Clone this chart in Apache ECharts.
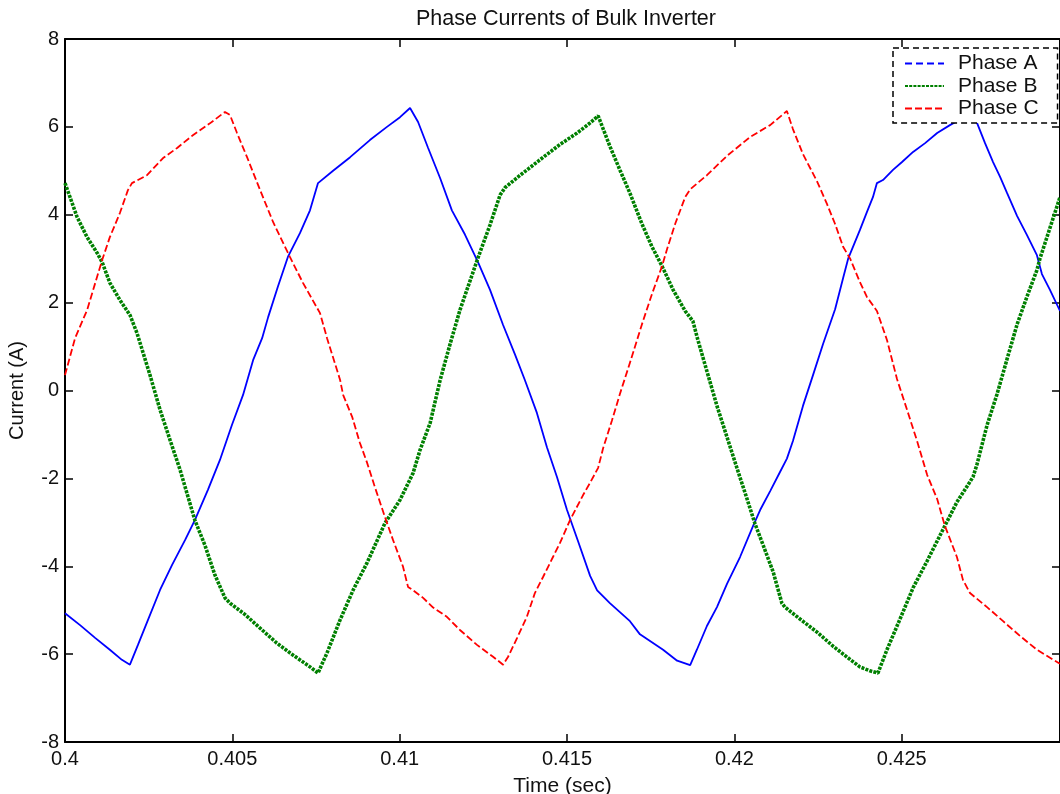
<!DOCTYPE html>
<html>
<head>
<meta charset="utf-8">
<title>Phase Currents of Bulk Inverter</title>
<script src="https://cdn.jsdelivr.net/npm/echarts@6/dist/echarts.min.js"></script>
<style>
  html, body { margin: 0; padding: 0; background: #ffffff; }
  #chart { width: 1060px; height: 794px; }
</style>
</head>
<body>
<div id="chart"></div>
<script>
// Sampled inverter phase currents (time in seconds, current in amperes)
const timeA = [
  0.40000,0.40045,0.40090,0.40134,0.40170,0.40194,0.40218,0.40248,0.40284,0.40320,
  0.40359,0.40388,0.40427,0.40463,0.40499,0.40532,0.40562,0.40589,0.40607,0.40636,
  0.40666,0.40702,0.40732,0.40756,0.40801,0.40852,0.40911,0.40962,0.41001,0.41031,
  0.41055,0.41085,0.41121,0.41156,0.41195,0.41234,0.41270,0.41309,0.41345,0.41374,
  0.41410,0.41440,0.41470,0.41500,0.41533,0.41569,0.41590,0.41628,0.41688,0.41718,
  0.41787,0.41829,0.41868,0.41888,0.41918,0.41948,0.41978,0.42017,0.42056,0.42077,
  0.42107,0.42136,0.42157,0.42175,0.42205,0.42235,0.42265,0.42301,0.42325,0.42340,
  0.42375,0.42396,0.42414,0.42426,0.42444,0.42474,0.42501,0.42534,0.42570,0.42606,
  0.42644,0.42665,0.42689,0.42725,0.42749,0.42773,0.42794,0.42815,0.42845,0.42874,
  0.42904,0.42919,0.42943,0.42973
];
const phaseA = [
  -5.07,-5.34,-5.63,-5.90,-6.13,-6.24,-5.79,-5.22,-4.54,-3.97,
  -3.40,-2.95,-2.26,-1.58,-0.78,-0.10,0.69,1.19,1.67,2.36,
  3.04,3.58,4.10,4.72,5.00,5.31,5.70,6.00,6.22,6.43,
  6.11,5.52,4.83,4.10,3.55,2.92,2.29,1.49,0.81,0.24,
  -0.51,-1.29,-1.97,-2.72,-3.43,-4.22,-4.55,-4.84,-5.25,-5.55,
  -5.90,-6.15,-6.25,-5.90,-5.36,-4.93,-4.40,-3.79,-3.08,-2.72,
  -2.29,-1.86,-1.55,-1.15,-0.35,0.35,1.06,1.85,2.56,3.00,
  3.65,4.06,4.40,4.72,4.79,5.02,5.20,5.43,5.63,5.86,
  6.04,6.13,6.33,6.09,5.63,5.20,4.86,4.49,3.97,3.54,
  3.08,2.65,2.29,1.81
];

const timeB = [
  0.40000,0.40015,0.40036,0.40066,0.40096,0.40111,0.40134,0.40164,0.40194,0.40215,
  0.40254,0.40284,0.40314,0.40344,0.40388,0.40418,0.40448,0.40478,0.40493,0.40538,
  0.40583,0.40633,0.40681,0.40732,0.40756,0.40783,0.40822,0.40861,0.40902,0.40956,
  0.41001,0.41040,0.41061,0.41091,0.41121,0.41150,0.41180,0.41234,0.41270,0.41300,
  0.41315,0.41360,0.41419,0.41479,0.41530,0.41569,0.41593,0.41628,0.41658,0.41688,
  0.41724,0.41754,0.41784,0.41817,0.41853,0.41876,0.41891,0.41918,0.41948,0.41978,
  0.42008,0.42038,0.42062,0.42086,0.42116,0.42142,0.42151,0.42196,0.42247,0.42295,
  0.42337,0.42375,0.42405,0.42429,0.42456,0.42495,0.42534,0.42576,0.42629,0.42665,
  0.42713,0.42725,0.42755,0.42785,0.42815,0.42845,0.42874,0.42904,0.42913,0.42943,
  0.42973
];
const phaseB = [
  4.72,4.40,3.95,3.49,3.13,2.92,2.45,2.06,1.72,1.31,
  0.35,-0.44,-1.13,-1.81,-2.95,-3.52,-4.20,-4.72,-4.84,-5.10,
  -5.41,-5.75,-6.02,-6.29,-6.43,-5.97,-5.22,-4.54,-3.93,-3.02,
  -2.49,-1.88,-1.35,-0.74,0.24,1.04,1.83,3.02,3.77,4.45,
  4.62,4.90,5.25,5.60,5.86,6.09,6.25,5.56,5.02,4.49,
  3.79,3.27,2.83,2.29,1.81,1.58,1.15,0.44,-0.35,-1.06,
  -1.77,-2.47,-3.04,-3.52,-4.13,-4.84,-4.93,-5.20,-5.50,-5.82,
  -6.07,-6.29,-6.38,-6.43,-5.90,-5.20,-4.49,-3.88,-3.08,-2.54,
  -1.97,-1.68,-0.79,-0.08,0.72,1.51,2.13,2.74,3.00,3.70,
  4.40
];

const timeC = [
  0.40000,0.40030,0.40066,0.40111,0.40134,0.40164,0.40188,0.40200,0.40245,0.40293,
  0.40335,0.40382,0.40433,0.40478,0.40493,0.40514,0.40544,0.40583,0.40622,0.40672,
  0.40711,0.40762,0.40783,0.40822,0.40831,0.40858,0.40881,0.40902,0.40926,0.40956,
  0.40980,0.41010,0.41025,0.41037,0.41070,0.41100,0.41141,0.41180,0.41231,0.41279,
  0.41309,0.41324,0.41351,0.41380,0.41404,0.41428,0.41458,0.41479,0.41509,0.41548,
  0.41569,0.41593,0.41608,0.41634,0.41658,0.41688,0.41724,0.41754,0.41784,0.41799,
  0.41823,0.41853,0.41868,0.41918,0.41978,0.42047,0.42107,0.42157,0.42175,0.42205,
  0.42247,0.42277,0.42301,0.42325,0.42346,0.42375,0.42396,0.42426,0.42456,0.42486,
  0.42516,0.42546,0.42576,0.42606,0.42629,0.42665,0.42683,0.42704,0.42755,0.42803,
  0.42854,0.42904,0.42973
];
const phaseC = [
  0.35,1.19,1.83,2.97,3.49,4.04,4.56,4.72,4.90,5.29,
  5.52,5.81,6.08,6.34,6.27,5.86,5.31,4.56,3.83,3.04,
  2.45,1.76,1.19,0.24,-0.10,-0.60,-1.19,-1.63,-2.20,-2.88,
  -3.40,-4.01,-4.47,-4.53,-4.72,-4.94,-5.15,-5.45,-5.79,-6.06,
  -6.24,-6.06,-5.63,-5.15,-4.61,-4.25,-3.79,-3.47,-2.95,-2.38,
  -2.10,-1.76,-1.31,-0.69,-0.08,0.63,1.51,2.20,2.83,3.22,
  3.79,4.40,4.58,4.90,5.34,5.77,6.04,6.36,5.95,5.38,
  4.76,4.24,3.79,3.27,3.00,2.47,2.13,1.81,1.15,0.26,
  -0.44,-1.15,-1.92,-2.47,-3.08,-3.79,-4.31,-4.61,-4.93,-5.25,
  -5.59,-5.90,-6.22
];

const seriesNames = ['Phase A', 'Phase B', 'Phase C'];
const timeRange = [0.4, 0.42973];
const timeStep = 0.005;
const currentRange = [-8, 8];
const currentStep = 2;

const FONT = "'Liberation Sans', Arial, Helvetica, sans-serif";
const INK = '#111111';

function pairs(t, v) { return t.map((x, i) => [x, v[i]]); }

const chart = echarts.init(document.getElementById('chart'), null, { renderer: 'canvas' });

const axisLineStyle = { show: true, onZero: false, lineStyle: { color: '#000', width: 2 } };
const tickStyle = { show: true, inside: true, length: 8, lineStyle: { color: '#000', width: 1.5 } };

const option = {
  backgroundColor: '#ffffff',
  animation: false,
  title: {
    text: 'Phase Currents of Bulk Inverter',
    left: 566,
    top: 8,
    textAlign: 'center',
    padding: 0,
    textStyle: { fontFamily: FONT, fontSize: 21.5, fontWeight: 'normal', color: INK }
  },
  legend: {
    data: [
      { name: seriesNames[0], lineStyle: { type: [7, 4], width: 2 } },
      { name: seriesNames[1] },
      { name: seriesNames[2] }
    ],
    orient: 'vertical',
    left: 893,
    top: 48,
    padding: [5, 19, 4, 11],
    itemGap: 1.5,
    itemWidth: 39,
    itemHeight: 14,
    itemStyle: { opacity: 0 },
    backgroundColor: '#ffffff',
    borderColor: '#000000',
    borderWidth: 1.5,
    borderType: [6, 4],
    textStyle: { fontFamily: FONT, fontSize: 21, color: INK, padding: [0, 0, 0, 9] },
    selectedMode: false
  },
  grid: { left: 65, top: 39, width: 995, height: 703, containLabel: false, outerBoundsMode: 'none' },
  xAxis: [
    {
      type: 'value',
      min: timeRange[0], max: timeRange[1], interval: timeStep,
      position: 'bottom',
      name: 'Time (sec)',
      nameLocation: 'middle',
      nameGap: 34,
      nameTextStyle: { fontFamily: FONT, fontSize: 21, color: INK },
      axisLine: axisLineStyle,
      axisTick: tickStyle,
      axisLabel: { fontFamily: FONT, fontSize: 20, color: INK, margin: 7, showMaxLabel: false },
      splitLine: { show: false }
    },
    {
      type: 'value',
      min: timeRange[0], max: timeRange[1], interval: timeStep,
      position: 'top',
      axisLine: axisLineStyle,
      axisTick: tickStyle,
      axisLabel: { show: false },
      splitLine: { show: false }
    }
  ],
  yAxis: [
    {
      type: 'value',
      min: currentRange[0], max: currentRange[1], interval: currentStep,
      position: 'left',
      name: 'Current (A)',
      nameLocation: 'middle',
      nameRotate: 90,
      nameGap: 38,
      nameTextStyle: { fontFamily: FONT, fontSize: 20, color: INK },
      axisLine: axisLineStyle,
      axisTick: tickStyle,
      axisLabel: { fontFamily: FONT, fontSize: 20, color: INK, margin: 6 },
      splitLine: { show: false }
    },
    {
      type: 'value',
      min: currentRange[0], max: currentRange[1], interval: currentStep,
      position: 'right',
      axisLine: axisLineStyle,
      axisTick: tickStyle,
      axisLabel: { show: false },
      splitLine: { show: false }
    }
  ],
  series: [
    {
      name: seriesNames[0],
      type: 'line',
      data: pairs(timeA, phaseA),
      symbol: 'none',
      lineStyle: { color: '#0000ff', width: 1.8, type: 'solid' },
      itemStyle: { color: '#0000ff' },
      z: 2
    },
    {
      name: seriesNames[1],
      type: 'line',
      data: pairs(timeB, phaseB),
      symbol: 'none',
      lineStyle: { color: '#008000', width: 3.6, type: [3, 1.2] },
      itemStyle: { color: '#008000' },
      z: 3
    },
    {
      name: seriesNames[2],
      type: 'line',
      data: pairs(timeC, phaseC),
      symbol: 'none',
      lineStyle: { color: '#ff0000', width: 1.8, type: [7, 3] },
      itemStyle: { color: '#ff0000' },
      z: 4
    }
  ]
};

chart.setOption(option);
</script>
</body>
</html>
